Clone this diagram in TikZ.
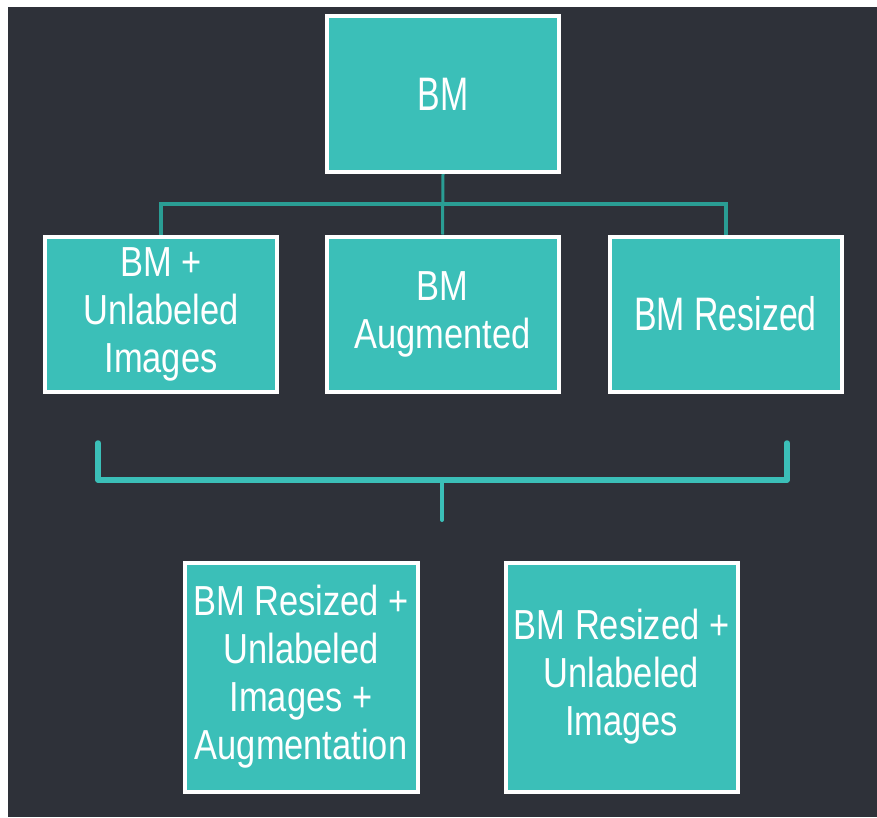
\documentclass[tikz,border=0pt]{standalone}
\usepackage{fontspec}
\setmainfont{Liberation Sans}
\newfontfamily\bigf[FakeStretch=0.72]{Liberation Sans}
\newfontfamily\smf[FakeStretch=0.82]{Liberation Sans}
\definecolor{bgdark}{HTML}{2E3139}
\definecolor{boxteal}{HTML}{3BBFB8}
\definecolor{lineteal}{HTML}{2A9D94}
\pgfdeclarelayer{back}
\pgfdeclarelayer{lines}
\pgfsetlayers{back,lines,main}
\tikzset{
  box/.style={draw=white, line width=4pt, fill=boxteal, text=white, align=center, inner sep=0pt},
  bigtext/.style={font=\bigf\fontsize{47}{52}\selectfont},
  smtext/.style={font=\smf\fontsize{42}{48}\selectfont},
  topconn/.style={draw=lineteal, line width=4pt},
  bracketline/.style={draw=boxteal, line width=5.5pt, line join=round, line cap=round}
}
\begin{document}
\begin{tikzpicture}[x=1pt, y=-1pt]
\useasboundingbox (0,0) rectangle (877,817);
\begin{pgfonlayer}{back}
  \fill[white] (0,0) rectangle (877,817);
  \fill[bgdark] (8,7) rectangle (877,817);
\end{pgfonlayer}

\node[box, bigtext, minimum width=232pt, minimum height=156pt] (bm) at (443,94) {BM};

\node[box, smtext, minimum width=232pt, minimum height=155pt] (c1) at (161,314) {BM +\\Unlabeled\\Images};
\node[box, smtext, minimum width=232pt, minimum height=155pt] (c2) at (442.5,314) {BM\\Augmented};
\node[box, bigtext, minimum width=232pt, minimum height=155pt] (c3) at (725.5,314) {BM Resized};

\node[box, smtext, minimum width=233pt, minimum height=229pt] (d1) at (301,677) {BM Resized +\\Unlabeled\\Images +\\Augmentation};
\node[box, smtext, minimum width=232pt, minimum height=229pt] (d2) at (621.5,677) {BM Resized +\\Unlabeled\\Images};

\coordinate (j) at (443,204);
\coordinate (bl) at (98,443);
\coordinate (blc) at (98,480);
\coordinate (brc) at (787,480);
\coordinate (br) at (787,443);
\coordinate (bs) at (442,480);
\coordinate (be) at (442,520);

\begin{pgfonlayer}{lines}
  \draw[topconn, line width=3pt] (bm.south) -- (c2.north);
  \draw[topconn] (c1.north) |- (j) -| (c3.north);
  \draw[bracketline] (bl) -- (blc) -- (brc) -- (br);
  \draw[bracketline, line width=4pt] (bs) -- (be);
\end{pgfonlayer}
\end{tikzpicture}
\end{document}
